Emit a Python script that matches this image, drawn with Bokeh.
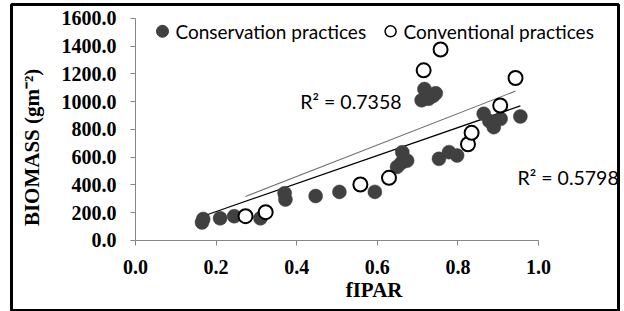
import math
from bokeh.plotting import figure
from bokeh.models import Range1d, Label, FixedTicker, CustomJSTickFormatter
from bokeh.embed import file_html
from bokeh.resources import INLINE

# ---- data ----
cons_x = [0.165, 0.168, 0.21, 0.245, 0.31, 0.37, 0.372, 0.447, 0.506, 0.594,
          0.649, 0.66, 0.662, 0.674, 0.71, 0.717, 0.727, 0.738, 0.745,
          0.753, 0.778, 0.798, 0.864, 0.878, 0.889, 0.906, 0.955]
cons_y = [130, 155, 160, 175, 160, 340, 295, 320, 350, 350,
          530, 560, 635, 575, 1010, 1090, 1020, 1040, 1060,
          588, 636, 612, 912, 860, 816, 876, 893]

conv_x = [0.273, 0.323, 0.558, 0.629, 0.715, 0.757, 0.825, 0.834, 0.905, 0.943]
conv_y = [175, 204, 403, 451, 1225, 1375, 693, 775, 972, 1170]

# linear trend lines (slope, intercept) and R^2 labels
cons_fit = [1007.6, 6.7]
conv_fit = [1132.0, 8.0]
r2_labels = ["R\u00b2 = 0.7358", "R\u00b2 = 0.5798"]

x_ticks = [0.0, 0.2, 0.4, 0.6, 0.8, 1.0]
y_ticks = [0, 200, 400, 600, 800, 1000, 1200, 1400, 1600]

series_names = ["Conservation practices", "Conventional practices"]
x_title = "fIPAR"
y_title = "BIOMASS (gm\u207b\u00b2)"

SERIF = "Liberation Serif"
SANS = "Lato"
DARK = "#404040"

p = figure(width=624, height=311, output_backend="svg", toolbar_location=None,
           x_range=Range1d(-0.3077, 1.1985), y_range=Range1d(-504, 1699),
           min_border_left=11, min_border_right=6, min_border_top=4,
           min_border_bottom=1)
p.outline_line_color = "black"
p.outline_line_width = 3
p.grid.visible = False
p.background_fill_color = "white"
p.border_fill_color = "white"

fmt = CustomJSTickFormatter(code="return tick.toFixed(1);")
for ax, ticks, bounds in ((p.xaxis[0], x_ticks, (0, 1.0)), (p.yaxis[0], y_ticks, (0, 1600))):
    ax.ticker = FixedTicker(ticks=ticks)
    ax.formatter = fmt
    ax.bounds = bounds
    ax.fixed_location = 0
    ax.axis_line_color = "#868686"
    ax.major_tick_line_color = "#868686"
    ax.major_tick_out = 5
    ax.major_tick_in = 0
    ax.minor_tick_line_color = None
    ax.major_label_text_font = SERIF
    ax.major_label_text_font_style = "bold"
    ax.major_label_text_font_size = "20px"
    ax.major_label_text_color = "black"
p.xaxis[0].major_label_standoff = 15
p.yaxis[0].major_label_standoff = 14

# trend lines
cx0, cx1 = min(cons_x), max(cons_x)
vx0, vx1 = min(conv_x), max(conv_x)
p.line([vx0, vx1], [conv_fit[0] * vx0 + conv_fit[1], conv_fit[0] * vx1 + conv_fit[1]],
       line_color="#707070", line_width=1.1)
p.line([cx0, cx1], [cons_fit[0] * cx0 + cons_fit[1], cons_fit[0] * cx1 + cons_fit[1]],
       line_color="black", line_width=1.2)

p.scatter(cons_x, cons_y, size=14, fill_color=DARK, line_color=DARK, line_width=0.5)
p.scatter(conv_x, conv_y, size=14, fill_color="white", line_color="black", line_width=2)

# legend (manual, top row)
p.scatter([0.067], [1506], size=12, fill_color=DARK, line_color=DARK)
p.scatter([0.633], [1506], size=11, fill_color="white", line_color="black", line_width=1.5)
p.add_layout(Label(x=0.099, y=1506, text=series_names[0], text_font=SANS,
                   text_font_size="19px", text_baseline="middle", text_color="black"))
p.add_layout(Label(x=0.665, y=1506, text=series_names[1], text_font=SANS,
                   text_font_size="19px", text_baseline="middle", text_color="black"))

p.add_layout(Label(x=0.409, y=1002, text=r2_labels[0], text_font=SANS,
                   text_font_size="19.5px", text_baseline="middle", text_color="black"))
p.add_layout(Label(x=0.948, y=454, text=r2_labels[1], text_font=SANS,
                   text_font_size="19.5px", text_baseline="middle", text_color="black"))

p.add_layout(Label(x=0.592, y=-360, text=x_title, text_font=SERIF, text_font_style="bold",
                   text_font_size="21px", text_align="center", text_baseline="middle",
                   text_color="black"))
p.add_layout(Label(x=-0.258, y=670, text=y_title, text_font=SERIF, text_font_style="bold",
                   text_font_size="21px", text_align="center", text_baseline="middle",
                   angle=math.pi / 2, text_color="black"))

open("out.html", "w").write(file_html(p, INLINE))
